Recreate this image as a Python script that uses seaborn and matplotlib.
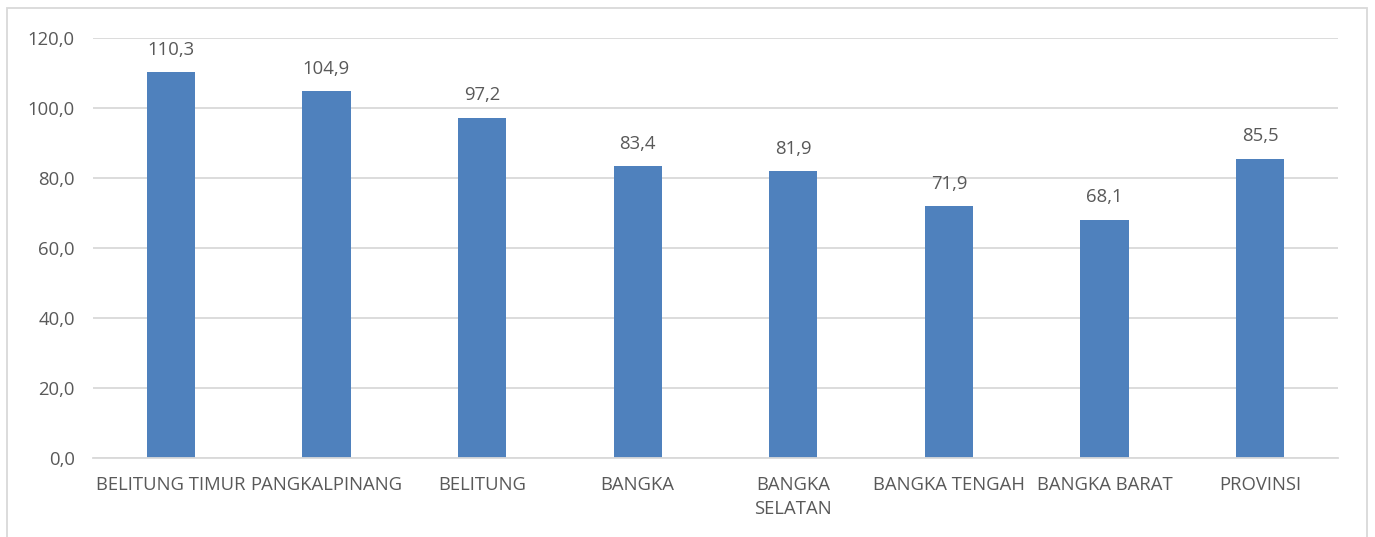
import matplotlib
matplotlib.use("Agg")
import matplotlib.pyplot as plt
import seaborn as sns
import pandas as pd
from matplotlib.patches import Rectangle

categories = ["BELITUNG TIMUR", "PANGKALPINANG", "BELITUNG", "BANGKA",
              "BANGKA\nSELATAN", "BANGKA TENGAH", "BANGKA BARAT", "PROVINSI"]
values = [110.3, 104.9, 97.2, 83.4, 81.9, 71.9, 68.1, 85.5]
yticks = [0, 20, 40, 60, 80, 100, 120]

sns.set_theme(style="white")
plt.rcParams['font.family'] = ['Open Sans', 'DejaVu Sans']

df = pd.DataFrame({"cat": categories, "val": values})
fig = plt.figure(figsize=(13.75, 5.37), dpi=100)
ax = fig.add_axes([93/1375, 1 - 458/537, (1338-93)/1375, (458-38)/537])

sns.barplot(data=df, x="cat", y="val", color="#4F81BD", width=0.31,
            saturation=1, linewidth=0, ax=ax)

ax.set_ylim(0, 120)
ax.set_yticks(yticks)
ax.set_yticklabels([f"{v:.1f}".replace(".", ",") for v in yticks])
ax.set_xlim(-0.5, len(categories) - 0.5)
ax.set_xlabel("")
ax.set_ylabel("")
ax.grid(axis="y", color="#D9D9D9", linewidth=1.3)
ax.set_axisbelow(True)
for s in ["left", "right", "top"]:
    ax.spines[s].set_visible(False)
ax.spines["bottom"].set_color("#D9D9D9")
ax.spines["bottom"].set_linewidth(1.3)
ax.tick_params(axis="both", length=0, colors="#595959", labelsize=13.3)
ax.tick_params(axis="x", pad=13)
ax.tick_params(axis="y", pad=13)
for lbl in ax.get_xticklabels():
    lbl.set_verticalalignment("top")
    lbl.set_linespacing(1.45)

for i, v in enumerate(values):
    ax.text(i, v + 3.8, f"{v:.1f}".replace(".", ","), ha="center", va="bottom",
            color="#595959", fontsize=13.3)

fig.patches.append(Rectangle((7/1375, -0.05), (1367-7)/1375, 1 - 8/537 + 0.05,
                             transform=fig.transFigure, fill=False,
                             edgecolor="#D9D9D9", linewidth=1.3))

fig.savefig("out.png", dpi=100)
